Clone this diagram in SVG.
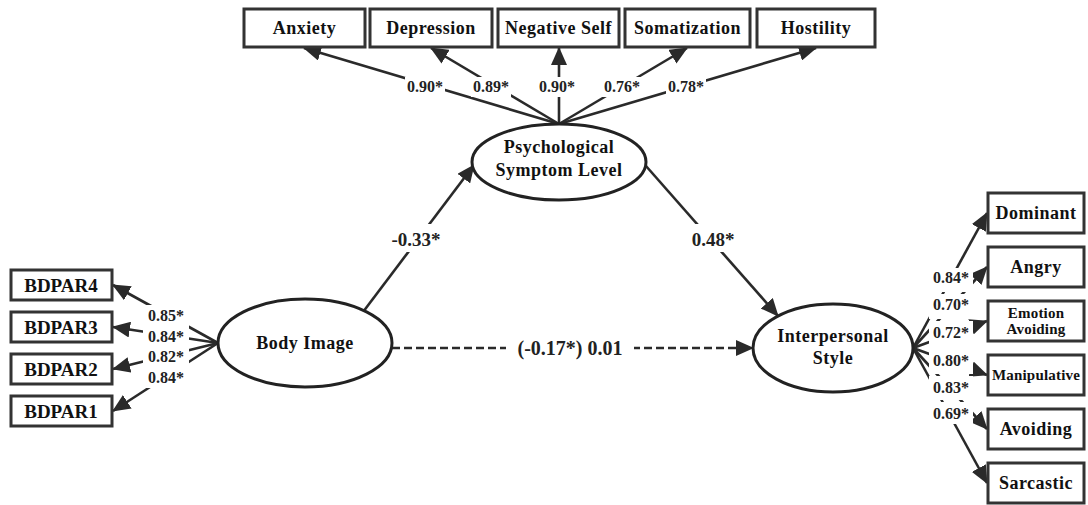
<svg xmlns="http://www.w3.org/2000/svg" width="1088" height="505" viewBox="0 0 1088 505">
<style>
.box{fill:#fff;stroke:#333;stroke-width:3}
.ell{fill:#fff;stroke:#222;stroke-width:3}
.ln{fill:none;stroke:#2a2a2a;stroke-width:2.6}
.dash{stroke-dasharray:8 4}
.nt{font-family:"Liberation Serif",serif;font-weight:bold;font-size:18px;letter-spacing:0.5px;fill:#111;text-anchor:middle}
.sm{font-size:15px;letter-spacing:0.2px}
.bd{font-family:"Liberation Serif",serif;font-weight:bold;font-size:19px;fill:#111;text-anchor:middle}
.lb{font-family:"Liberation Serif",serif;font-weight:bold;font-size:16px;fill:#222;text-anchor:middle}
.lb2{font-family:"Liberation Serif",serif;font-weight:bold;font-size:19px;fill:#222;text-anchor:middle}
.bg{fill:#fff}
</style>
<defs>
<marker id="ah" markerUnits="userSpaceOnUse" markerWidth="18" markerHeight="16" refX="17" refY="8" orient="auto">
<path d="M0,0 L18,8 L0,16 z" fill="#2a2a2a"/>
</marker>
</defs>
<rect width="1088" height="505" fill="#fff"/>
<g id="connectors">
<line class="ln" x1="559" y1="124" x2="304" y2="48" marker-end="url(#ah)"/>
<line class="ln" x1="559" y1="124" x2="431" y2="48" marker-end="url(#ah)"/>
<line class="ln" x1="559" y1="124" x2="559" y2="48" marker-end="url(#ah)"/>
<line class="ln" x1="559" y1="124" x2="687" y2="48" marker-end="url(#ah)"/>
<line class="ln" x1="559" y1="124" x2="816" y2="48" marker-end="url(#ah)"/>
<line class="ln" x1="218" y1="343" x2="113" y2="285" marker-end="url(#ah)"/>
<line class="ln" x1="218" y1="343" x2="113" y2="327" marker-end="url(#ah)"/>
<line class="ln" x1="218" y1="343" x2="113" y2="369" marker-end="url(#ah)"/>
<line class="ln" x1="218" y1="343" x2="113" y2="411" marker-end="url(#ah)"/>
<line class="ln" x1="363" y1="312" x2="474" y2="165" marker-end="url(#ah)"/>
<line class="ln" x1="646" y1="166" x2="778" y2="316" marker-end="url(#ah)"/>
<line class="ln dash" x1="392" y1="348" x2="753" y2="348" marker-end="url(#ah)"/>
<line class="ln" x1="913" y1="348" x2="987" y2="213" marker-end="url(#ah)"/>
<line class="ln" x1="913" y1="348" x2="987" y2="267" marker-end="url(#ah)"/>
<line class="ln" x1="913" y1="348" x2="987" y2="321" marker-end="url(#ah)"/>
<line class="ln" x1="913" y1="348" x2="987" y2="375" marker-end="url(#ah)"/>
<line class="ln" x1="913" y1="348" x2="987" y2="429" marker-end="url(#ah)"/>
<line class="ln" x1="913" y1="348" x2="987" y2="483" marker-end="url(#ah)"/>
<rect class="bg" x="405" y="77" width="40" height="20"/>
<rect class="bg" x="471" y="77" width="40" height="20"/>
<rect class="bg" x="537" y="77" width="40" height="20"/>
<rect class="bg" x="602" y="77" width="40" height="20"/>
<rect class="bg" x="666" y="77" width="40" height="20"/>
<rect class="bg" x="143" y="305" width="46" height="83"/>
<rect class="bg" x="384" y="224" width="64" height="28"/>
<rect class="bg" x="688" y="224" width="50" height="28"/>
<rect class="bg" x="506" y="334" width="128" height="28"/>
<rect class="bg" x="929" y="268" width="44" height="24"/>
<rect class="bg" x="929" y="294" width="44" height="25"/>
<rect class="bg" x="929" y="321" width="44" height="25"/>
<rect class="bg" x="929" y="349" width="44" height="25"/>
<rect class="bg" x="929" y="376" width="44" height="24"/>
<rect class="bg" x="929" y="402" width="44" height="22"/>
<text class="lb" x="425" y="92">0.90*</text>
<text class="lb" x="491" y="92">0.89*</text>
<text class="lb" x="557" y="92">0.90*</text>
<text class="lb" x="622" y="92">0.76*</text>
<text class="lb" x="686" y="92">0.78*</text>
<text class="lb" x="166" y="321">0.85*</text>
<text class="lb" x="166" y="342">0.84*</text>
<text class="lb" x="166" y="362">0.82*</text>
<text class="lb" x="166" y="383">0.84*</text>
<text class="lb2" x="416" y="246">-0.33*</text>
<text class="lb2" x="713" y="246">0.48*</text>
<text class="lb2" x="570" y="355" style="font-size:20px">(-0.17*) 0.01</text>
<text class="lb" x="951" y="283">0.84*</text>
<text class="lb" x="951" y="310">0.70*</text>
<text class="lb" x="951" y="338">0.72*</text>
<text class="lb" x="951" y="366">0.80*</text>
<text class="lb" x="951" y="393">0.83*</text>
<text class="lb" x="951" y="419">0.69*</text>
</g>
<g id="anxiety"><rect class="box" x="244" y="9" width="121" height="38"/><text class="nt" x="304.5" y="34">Anxiety</text></g>
<g id="depression"><rect class="box" x="370" y="9" width="122" height="38"/><text class="nt" x="431" y="34">Depression</text></g>
<g id="negative-self"><rect class="box" x="498" y="9" width="121" height="38"/><text class="nt" x="558.5" y="34">Negative Self</text></g>
<g id="somatization"><rect class="box" x="625" y="9" width="125" height="38"/><text class="nt" x="687.5" y="34">Somatization</text></g>
<g id="hostility"><rect class="box" x="757" y="9" width="118" height="38"/><text class="nt" x="816" y="34">Hostility</text></g>
<g id="psych"><ellipse class="ell" cx="559" cy="162" rx="87" ry="38"/><text class="nt" x="559" y="153">Psychological</text><text class="nt" x="559" y="176">Symptom Level</text></g>
<g id="body-image"><ellipse class="ell" cx="305" cy="343" rx="87" ry="44"/><text class="nt" x="305" y="349">Body Image</text></g>
<g id="interpersonal"><ellipse class="ell" cx="833" cy="348" rx="80" ry="44"/><text class="nt" x="833" y="342">Interpersonal</text><text class="nt" x="833" y="364">Style</text></g>
<g id="bdpar4"><rect class="box" x="11" y="270" width="101" height="30"/><text class="bd" x="61" y="292">BDPAR4</text></g>
<g id="bdpar3"><rect class="box" x="11" y="312" width="101" height="30"/><text class="bd" x="61" y="334">BDPAR3</text></g>
<g id="bdpar2"><rect class="box" x="11" y="354" width="101" height="30"/><text class="bd" x="61" y="376">BDPAR2</text></g>
<g id="bdpar1"><rect class="box" x="11" y="396" width="101" height="30"/><text class="bd" x="61" y="418">BDPAR1</text></g>
<g id="dominant"><rect class="box" x="988" y="193" width="96" height="40"/><text class="nt" x="1036" y="219">Dominant</text></g>
<g id="angry"><rect class="box" x="988" y="247" width="96" height="40"/><text class="nt" x="1036" y="273">Angry</text></g>
<g id="emotion-avoiding"><rect class="box" x="988" y="301" width="96" height="40"/><text class="nt sm" x="1036" y="318">Emotion</text><text class="nt sm" x="1036" y="334">Avoiding</text></g>
<g id="manipulative"><rect class="box" x="988" y="355" width="96" height="40"/><text class="nt sm" x="1036" y="380">Manipulative</text></g>
<g id="avoiding"><rect class="box" x="988" y="409" width="96" height="40"/><text class="nt" x="1036" y="435">Avoiding</text></g>
<g id="sarcastic"><rect class="box" x="988" y="463" width="96" height="40"/><text class="nt" x="1036" y="489">Sarcastic</text></g>
</svg>
